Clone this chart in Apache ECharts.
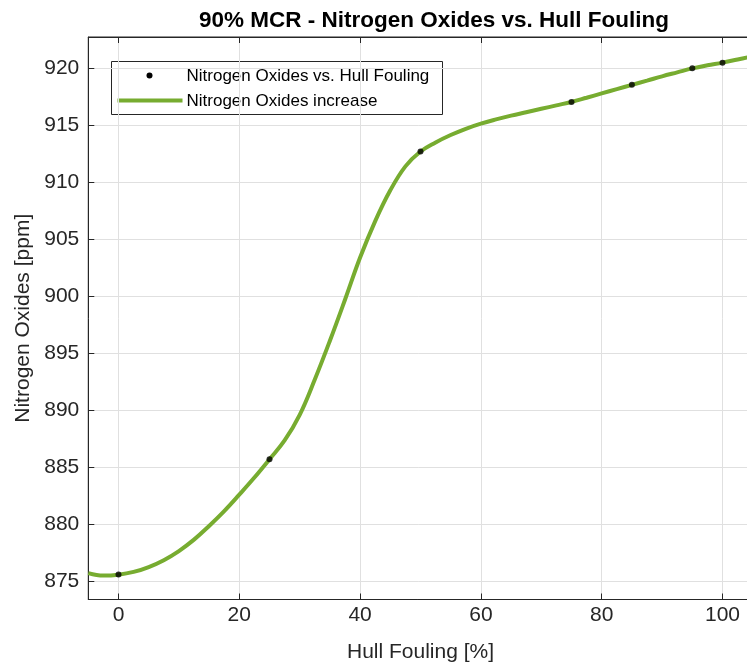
<!DOCTYPE html>
<html>
<head>
<meta charset="utf-8">
<title>90% MCR - Nitrogen Oxides vs. Hull Fouling</title>
<script src="https://cdn.jsdelivr.net/npm/echarts@6/dist/echarts.min.js"></script>
<style>
  html, body { margin: 0; padding: 0; background: #ffffff; }
  #chart { width: 747px; height: 671px; }
</style>
</head>
<body>
<div id="chart"></div>
<script>
// Measured operating points at 90% MCR
const foulingPct = [0, 25, 50, 75, 85, 95, 100];
const noxPpm = [875.6, 885.7, 912.7, 917.05, 918.55, 920.0, 920.5];

// Trend curve through the measurements
const trendFouling = [-5, -2.5, 0, 2.5, 5, 7.5, 10, 12.5, 15, 17.5, 20, 22.5, 25, 27.5,
  30, 32.5, 35, 37.5, 40, 42.5, 45, 47.5, 50, 52.5, 55, 57.5, 60, 62.5, 65, 67.5, 70, 72.5,
  75, 77.5, 80, 82.5, 85, 87.5, 90, 92.5, 95, 97.5, 100, 102.5, 105];
const trendNox = [875.72, 875.5, 875.58, 875.82, 876.25, 876.85, 877.65, 878.65, 879.85, 881.15,
  882.6, 884.1, 885.7, 887.35, 889.6, 892.7, 896.1, 899.7, 903.4, 906.6, 909.3, 911.4,
  912.7, 913.5, 914.15, 914.7, 915.15, 915.52, 915.85, 916.15, 916.45, 916.75,
  917.05, 917.42, 917.8, 918.18, 918.55, 918.92, 919.3, 919.65, 920.0, 920.27, 920.5, 920.78, 921.05];

const chartTitle = '90% MCR - Nitrogen Oxides vs. Hull Fouling';
const xName = 'Hull Fouling [%]';
const yName = 'Nitrogen Oxides [ppm]';
const pointsLabel = 'Nitrogen Oxides vs. Hull Fouling';
const trendLabel = 'Nitrogen Oxides increase';

const FONT = '"Liberation Sans", Arial, Helvetica, sans-serif';
const INK = '#262626';
const GREEN = '#77AC30';
const GRID = '#e0e0e0';

const xMin = -5, xMax = 105;
const yMin = 873.4, yMax = 922.75;

const pointData = foulingPct.map((x, i) => [x, noxPpm[i]]);
const trendData = trendFouling.map((x, i) => [x, trendNox[i]]);

const chart = echarts.init(document.getElementById('chart'), null, { renderer: 'canvas' });

const option = {
  animation: false,
  backgroundColor: '#ffffff',
  title: {
    text: chartTitle,
    left: 429,
    top: 4,
    textAlign: 'center',
    textStyle: { fontFamily: FONT, fontSize: 22.5, fontWeight: 'bold', color: '#000000' }
  },
  grid: {
    left: 88.3, right: -5.7, top: 37, bottom: 71.5,
    containLabel: false,
    outerBoundsMode: 'none',
    show: true, borderColor: INK, borderWidth: 1, backgroundColor: '#ffffff'
  },
  xAxis: [{
    type: 'value',
    min: xMin, max: xMax,
    position: 'bottom',
    name: xName,
    nameLocation: 'middle',
    nameGap: 42,
    nameTextStyle: { fontFamily: FONT, fontSize: 21, color: INK },
    axisLine: { show: true, onZero: false, lineStyle: { color: INK, width: 1 } },
    axisTick: { show: true, inside: true, length: 6, lineStyle: { color: INK } },
    axisLabel: {
      fontFamily: FONT, fontSize: 21, color: INK, margin: 5,
      formatter: v => (Math.abs(v % 20) < 1e-6 ? String(v) : '')
    },
    splitLine: { show: true, lineStyle: { color: GRID, width: 1 } }
  }, {
    type: 'value',
    min: xMin, max: xMax,
    position: 'top',
    axisLine: { show: true, onZero: false, lineStyle: { color: INK, width: 1 } },
    axisTick: { show: true, inside: true, length: 6, lineStyle: { color: INK } },
    axisLabel: { show: false },
    splitLine: { show: false }
  }],
  yAxis: {
    type: 'value',
    min: yMin, max: yMax,
    splitNumber: 10,
    name: yName,
    nameLocation: 'middle',
    nameGap: 55,
    nameRotate: 90,
    nameTextStyle: { fontFamily: FONT, fontSize: 21, color: INK },
    axisLine: { show: true, onZero: false, lineStyle: { color: INK, width: 1 } },
    axisTick: { show: true, inside: true, length: 6, lineStyle: { color: INK } },
    axisLabel: {
      fontFamily: FONT, fontSize: 21, color: INK, margin: 9,
      formatter: v => (Math.abs(v % 5) < 1e-6 ? String(v) : '')
    },
    splitLine: { show: true, lineStyle: { color: GRID, width: 1 } }
  },
  series: [{
    name: trendLabel,
    type: 'line',
    data: trendData,
    smooth: 0.4,
    showSymbol: false,
    clip: true,
    lineStyle: { color: GREEN, width: 4 },
    z: 2
  }, {
    name: pointsLabel,
    type: 'scatter',
    data: pointData,
    symbol: 'circle',
    symbolSize: 6,
    itemStyle: { color: '#000000' },
    z: 3
  }],
  graphic: [{
    type: 'group',
    left: 111, top: 61,
    z: 100,
    children: [
      { type: 'rect', shape: { x: 0, y: 0, width: 331, height: 53 },
        style: { fill: '#ffffff', stroke: INK, lineWidth: 1 } },
      { type: 'circle', shape: { cx: 38, cy: 14, r: 3 }, style: { fill: '#000000' } },
      { type: 'text', x: 75, y: 15,
        style: { text: pointsLabel, fontFamily: FONT, fontSize: 17, fill: '#000000',
                 verticalAlign: 'middle', align: 'left' } },
      { type: 'line', shape: { x1: 6, y1: 39, x2: 71, y2: 39 },
        style: { stroke: GREEN, lineWidth: 4 } },
      { type: 'text', x: 75, y: 40,
        style: { text: trendLabel, fontFamily: FONT, fontSize: 17, fill: '#000000',
                 verticalAlign: 'middle', align: 'left' } }
    ]
  }]
};

chart.setOption(option);
</script>
</body>
</html>
